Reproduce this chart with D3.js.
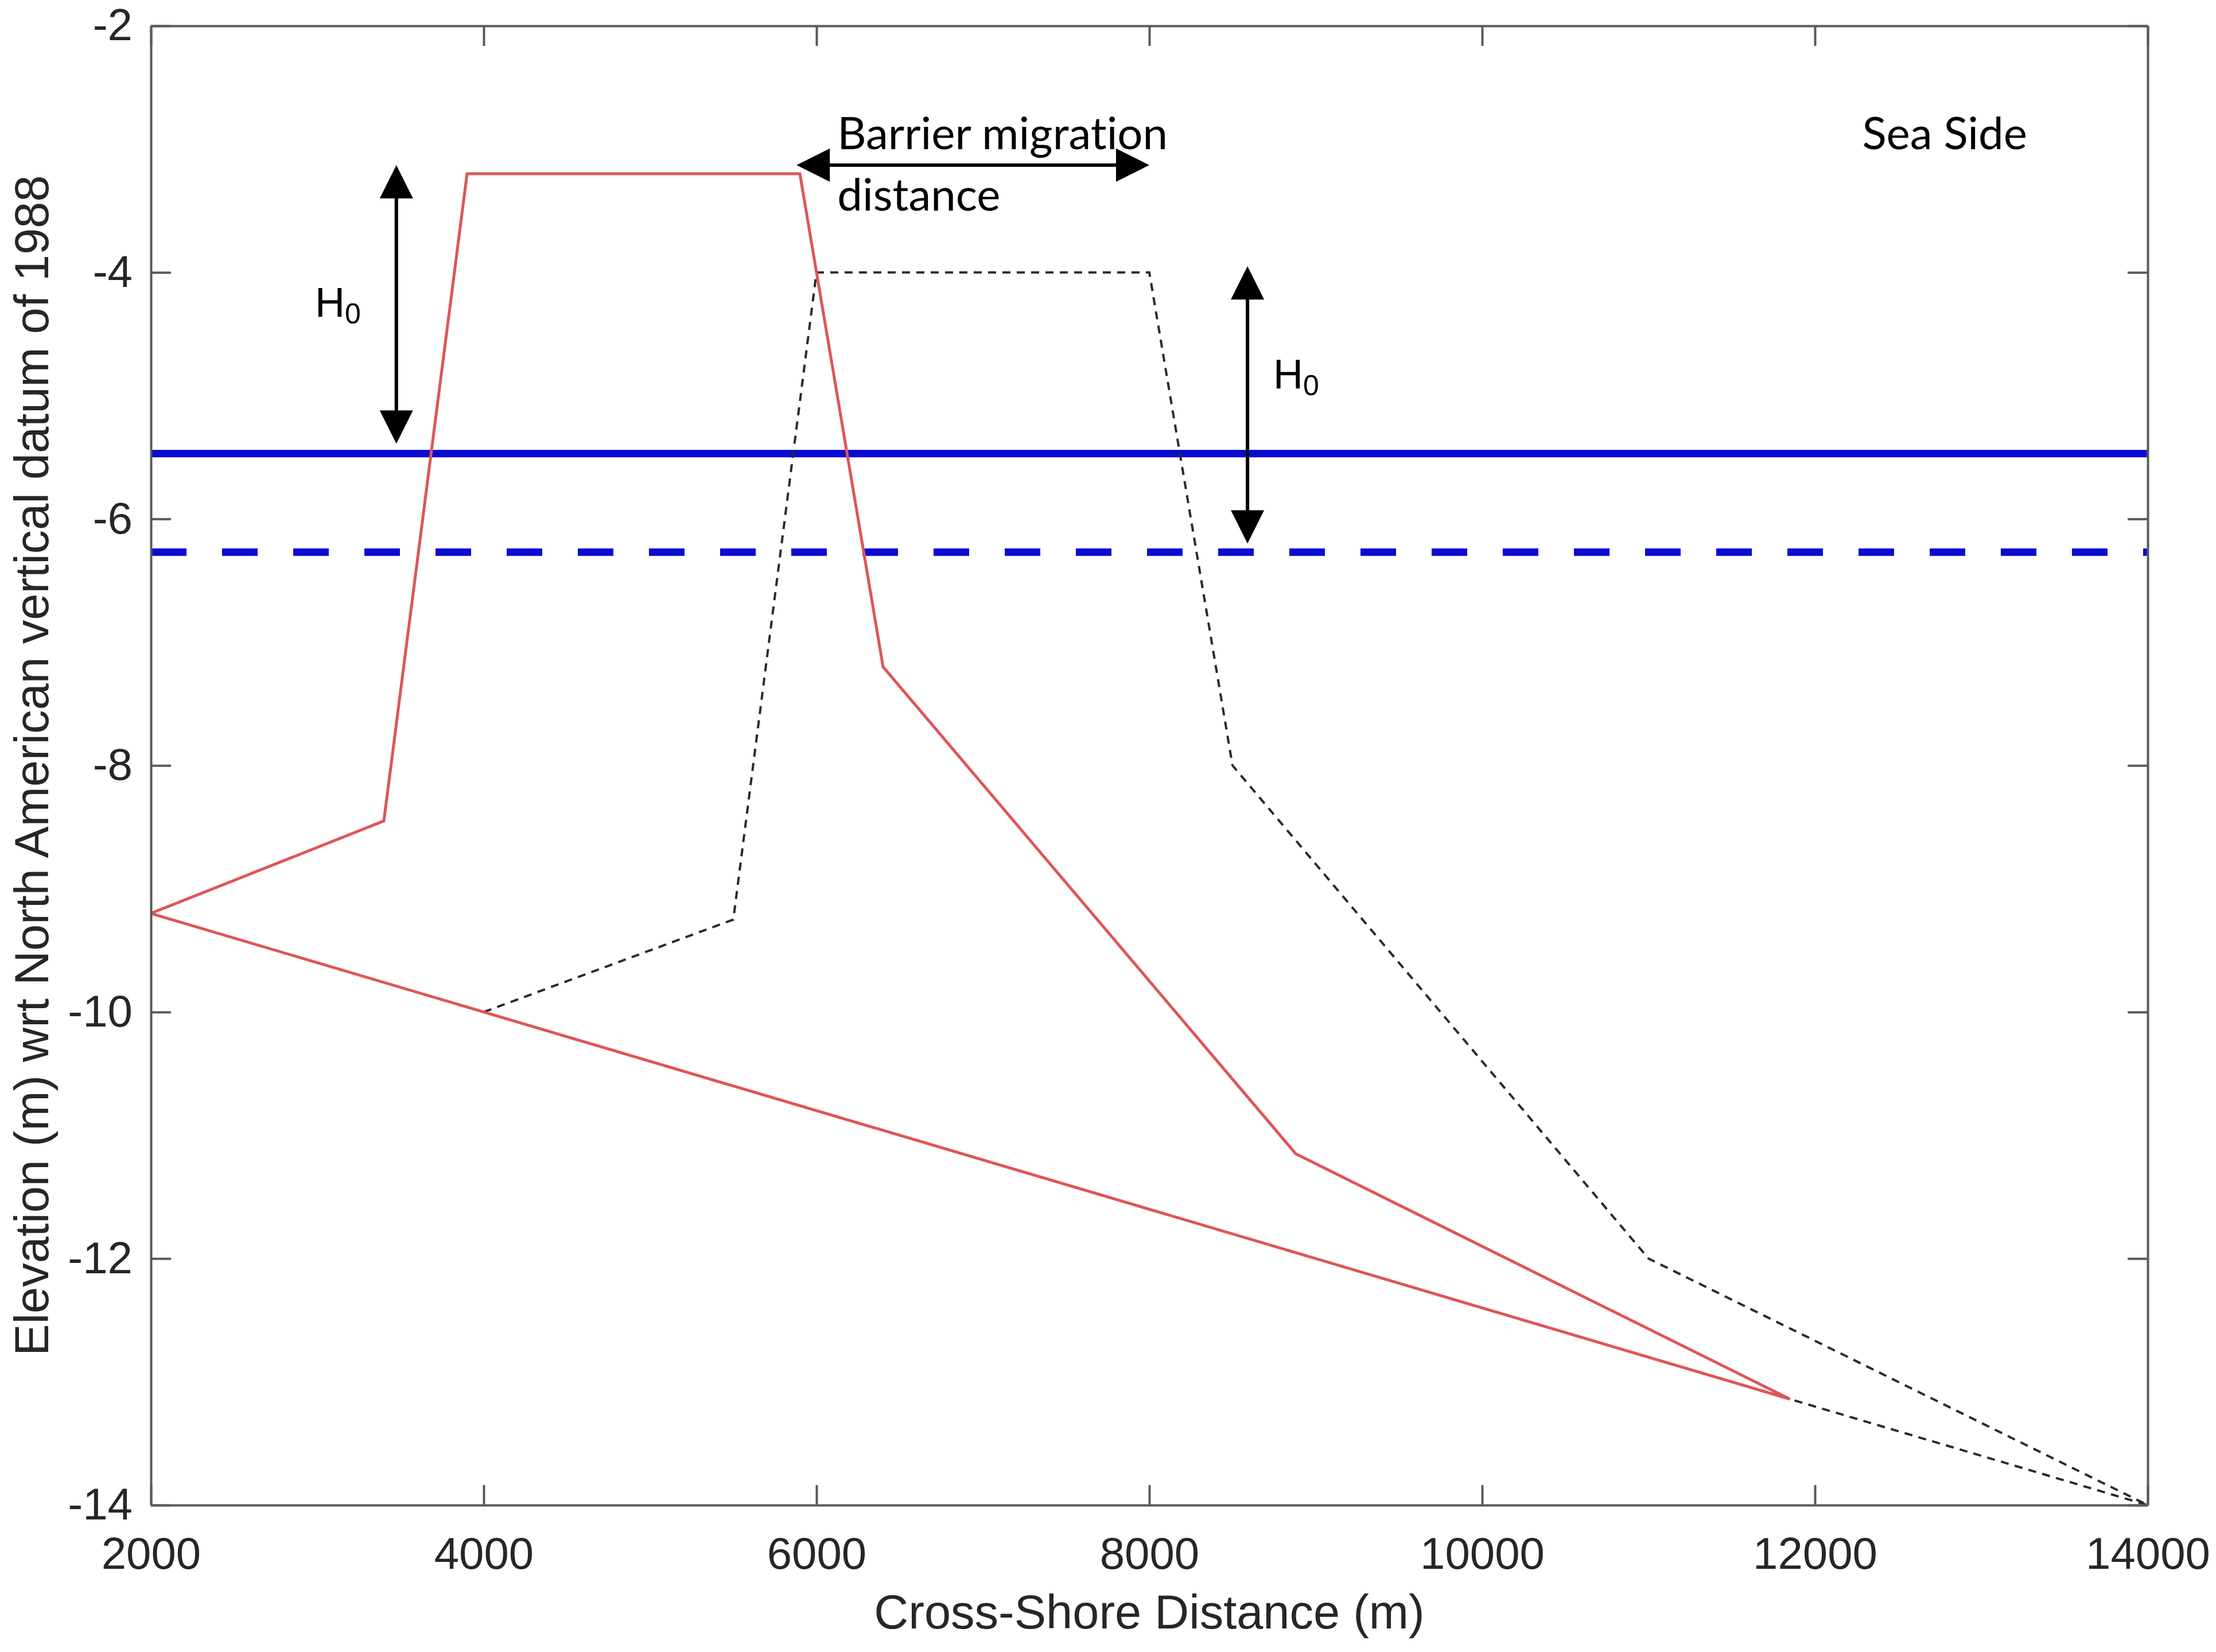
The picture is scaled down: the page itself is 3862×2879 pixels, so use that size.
<!DOCTYPE html>
<html>
<head>
<meta charset="utf-8">
<script src="https://cdn.jsdelivr.net/npm/d3@7"></script>
<style>
  body { margin: 0; background: #ffffff; }
</style>
</head>
<body>
<div id="chart"></div>
<script>
//Axis ticks
const xTicks = [2000, 4000, 6000, 8000, 10000, 12000, 14000];
const yTicks = [-2, -4, -6, -8, -10, -12, -14];

//Initial barrier profile (red, closed outline)
const initialX = [2000, 3400, 3900, 5900, 6400, 8880, 11850, 2000];
const initialY = [-9.2, -8.45, -3.2, -3.2, -7.2, -11.15, -13.14, -9.2];

//Migrated barrier profile (black dashed, closed outline)
const migratedX = [4000, 5500, 6000, 8000, 8500, 11000, 14000, 4000];
const migratedY = [-10, -9.25, -4, -4, -8, -12, -14, -10];

//Sea levels (solid = current, dashed = earlier)
const seaLevels = [-5.47, -6.27];

//Annotation arrows: [x1, y1, x2, y2]
const arrowH0Left = [3475, -3.13, 3475, -5.39];
const arrowH0Right = [8590, -3.95, 8590, -6.2];
const arrowMigration = [5880, -3.13, 8000, -3.13];

//Annotation labels: [x, y]
const h0LeftPos = [2986, -4.36];
const h0RightPos = [8745, -4.94];
const migrationPos = [6125, -3.0];
const distancePos = [6125, -3.5];
const seaSidePos = [12780, -3.0];

function drawChart() {
  //Chart Variables and Constants
  const width = 3862;
  const height = 2879;
  const margin = { top: 45, right: 119, bottom: 256, left: 263 };
  const innerW = width - margin.left - margin.right;
  const innerH = height - margin.top - margin.bottom;
  const axisColor = "#5a5a5a";
  const textColor = "#262626";
  const tickFont = "'Liberation Sans', Arial, sans-serif";
  const noteFont = "Lato, 'Open Sans', sans-serif";

  const svg = d3
    .select("#chart")
    .append("svg")
    .attr("width", width)
    .attr("height", height)
    .style("background-color", "#ffffff");

  const g = svg
    .append("g")
    .attr("transform", `translate(${margin.left}, ${margin.top})`);

  //Scales
  const x = d3.scaleLinear().domain([2000, 14000]).range([0, innerW]);
  const y = d3.scaleLinear().domain([-14, -2]).range([innerH, 0]);

  //Clip to the plot box
  svg
    .append("defs")
    .append("clipPath")
    .attr("id", "plot-clip")
    .append("rect")
    .attr("width", innerW)
    .attr("height", innerH);

  const plot = g.append("g").attr("clip-path", "url(#plot-clip)");

  const line = d3
    .line()
    .x((d) => x(d[0]))
    .y((d) => y(d[1]));

  //Sea level lines
  plot
    .selectAll(".sea-level")
    .data(seaLevels)
    .enter()
    .append("line")
    .attr("class", "sea-level")
    .attr("x1", x(2000))
    .attr("x2", x(14000))
    .attr("y1", (d) => y(d))
    .attr("y2", (d) => y(d))
    .attr("stroke", "#0a0ad2")
    .attr("stroke-width", 13)
    .attr("stroke-dasharray", (d, i) => (i === 0 ? null : "62,62"));

  //Migrated profile
  plot
    .append("path")
    .datum(migratedX.map((v, i) => [v, migratedY[i]]))
    .attr("d", line)
    .attr("fill", "none")
    .attr("stroke", "#2a2a2a")
    .attr("stroke-width", 4)
    .attr("stroke-dasharray", "14,11");

  //Initial profile
  plot
    .append("path")
    .datum(initialX.map((v, i) => [v, initialY[i]]))
    .attr("d", line)
    .attr("fill", "none")
    .attr("stroke", "#de5558")
    .attr("stroke-width", 5)
    .attr("stroke-linejoin", "miter");

  //Double-headed arrows
  const headLen = 58;
  const headW = 58;
  function drawArrow(a) {
    const x1 = x(a[0]), y1 = y(a[1]), x2 = x(a[2]), y2 = y(a[3]);
    const ang = Math.atan2(y2 - y1, x2 - x1);
    const ux = Math.cos(ang), uy = Math.sin(ang);
    g.append("line")
      .attr("x1", x1 + ux * headLen * 0.9)
      .attr("y1", y1 + uy * headLen * 0.9)
      .attr("x2", x2 - ux * headLen * 0.9)
      .attr("y2", y2 - uy * headLen * 0.9)
      .attr("stroke", "#000")
      .attr("stroke-width", 6);
    [[x1, y1, -1], [x2, y2, 1]].forEach(([tx, ty, s]) => {
      const bx = tx - s * ux * headLen;
      const by = ty - s * uy * headLen;
      const px = -uy * headW / 2, py = ux * headW / 2;
      g.append("path")
        .attr("d", `M${tx},${ty}L${bx + px},${by + py}L${bx - px},${by - py}Z`)
        .attr("fill", "#000");
    });
  }
  drawArrow(arrowH0Left);
  drawArrow(arrowH0Right);
  drawArrow(arrowMigration);

  //H0 labels
  [h0LeftPos, h0RightPos].forEach((p) => {
    const t = g
      .append("text")
      .attr("x", x(p[0]))
      .attr("y", y(p[1]))
      .attr("font-family", tickFont)
      .attr("font-size", "72px")
      .attr("fill", "#000");
    t.append("tspan").text("H");
    t.append("tspan").attr("font-size", "50px").attr("dy", 12).text("0");
  });

  //Text notes
  const notes = [
    { pos: migrationPos, text: "Barrier migration", size: 78, anchor: "start" },
    { pos: distancePos, text: "distance", size: 78, anchor: "start" },
    { pos: seaSidePos, text: "Sea Side", size: 78, anchor: "middle" },
  ];
  g.selectAll(".note")
    .data(notes)
    .enter()
    .append("text")
    .attr("class", "note")
    .attr("x", (d) => x(d.pos[0]))
    .attr("y", (d) => y(d.pos[1]))
    .attr("text-anchor", (d) => d.anchor)
    .attr("font-family", noteFont)
    .attr("font-size", (d) => `${d.size}px`)
    .style("font-variant-ligatures", "none")
    .attr("fill", "#000")
    .text((d) => d.text);

  //Axes (ticks point inward, box on all four sides)
  const tickLen = 35;
  function styleAxis(sel, fontSize) {
    sel.select(".domain").attr("stroke", axisColor).attr("stroke-width", 4);
    sel.selectAll(".tick line").attr("stroke", axisColor).attr("stroke-width", 4);
    sel
      .selectAll(".tick text")
      .attr("fill", textColor)
      .attr("font-family", tickFont)
      .attr("font-size", `${fontSize}px`);
  }

  g.append("g")
    .attr("transform", `translate(0, ${innerH})`)
    .call(
      d3.axisBottom(x).tickValues(xTicks).tickSizeInner(-tickLen).tickSizeOuter(0)
        .tickPadding(56).tickFormat(d3.format("d"))
    )
    .call((s) => styleAxis(s, 78));

  g.append("g")
    .call(
      d3.axisLeft(y).tickValues(yTicks).tickSizeInner(-tickLen).tickSizeOuter(0)
        .tickPadding(32).tickFormat((d) => String(d).replace("\u2212", "-"))
    )
    .call((s) => styleAxis(s, 78));

  g.append("g")
    .call(d3.axisTop(x).tickValues(xTicks).tickSizeInner(-tickLen).tickSizeOuter(0).tickFormat(""))
    .call((s) => styleAxis(s, 78));

  g.append("g")
    .attr("transform", `translate(${innerW}, 0)`)
    .call(d3.axisRight(y).tickValues(yTicks).tickSizeInner(-tickLen).tickSizeOuter(0).tickFormat(""))
    .call((s) => styleAxis(s, 78));

  //Axis titles
  svg
    .append("text")
    .attr("x", margin.left + innerW / 2)
    .attr("y", 2838)
    .attr("text-anchor", "middle")
    .attr("font-family", tickFont)
    .attr("font-size", "83px")
    .attr("fill", textColor)
    .text("Cross-Shore Distance (m)");

  svg
    .append("text")
    .attr("transform", `translate(84, ${margin.top + innerH / 2}) rotate(-90)`)
    .attr("text-anchor", "middle")
    .attr("font-family", tickFont)
    .attr("font-size", "83px")
    .attr("fill", textColor)
    .text("Elevation (m) wrt North American vertical datum of 1988");
}

drawChart();
</script>
</body>
</html>
